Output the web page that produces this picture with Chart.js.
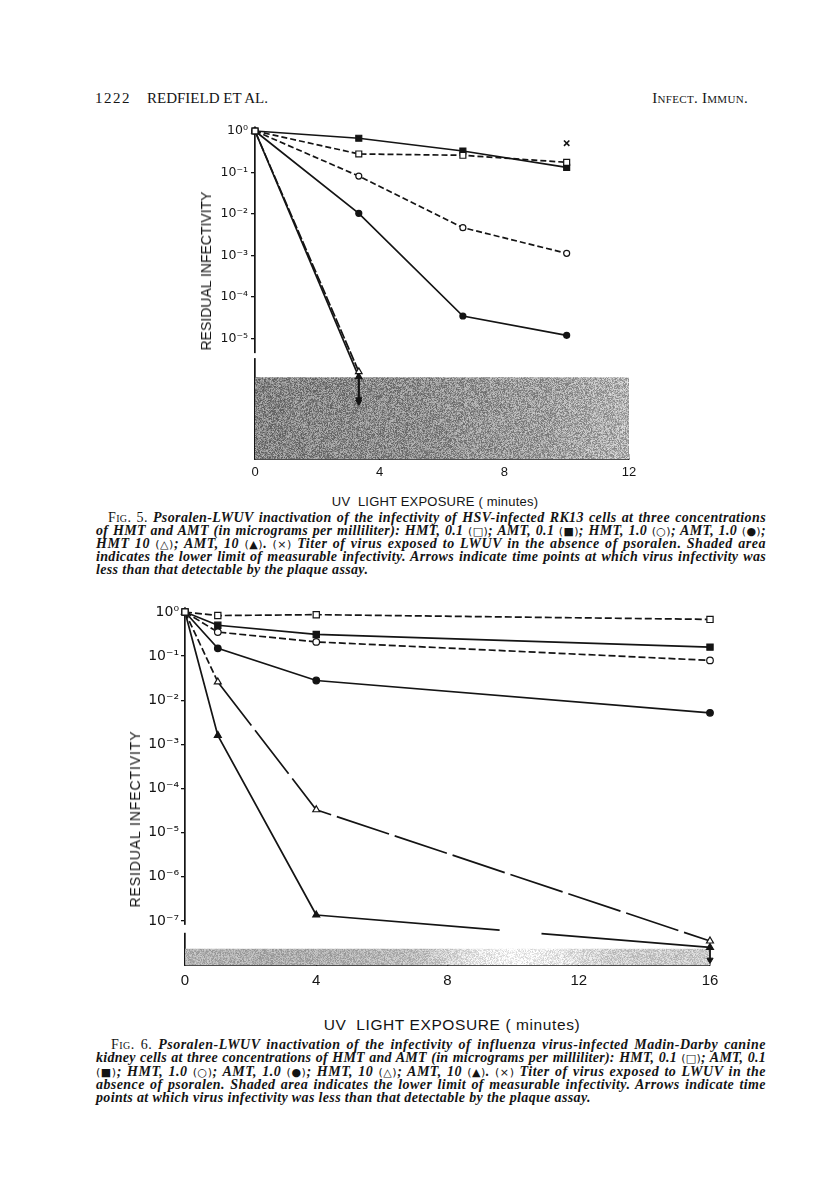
<!DOCTYPE html>
<html>
<head>
<meta charset="utf-8">
<script src="https://cdn.jsdelivr.net/npm/chart.js@4.4.1/dist/chart.umd.min.js"></script>
<style>
  html, body { margin: 0; padding: 0; background: #fff; }
  #page { position: relative; width: 816px; height: 1196px; background: #fff; overflow: hidden; color: #141414; }
  .abs { position: absolute; white-space: nowrap; }
  .hdr { font-family: 'Liberation Serif', serif; font-size: 15px; line-height: 16px; }
  .sc { font-variant: small-caps; }
  .ytitle { font-family: 'Liberation Sans', Arial, sans-serif; transform: translate(-50%, -50%) rotate(-90deg); transform-origin: 50% 50%; }
  .xtitle { font-family: 'Liberation Sans', Arial, sans-serif; transform: translate(-50%, -50%); }
  .cap { position: absolute; white-space: nowrap; font-family: 'Liberation Serif', serif; font-style: italic; font-weight: bold; font-size: 14px; line-height: 13px; height: 13px; }
  .cap .fig { font-style: normal; font-weight: normal; font-variant: small-caps; }
  .cap .sym { font-style: normal; font-weight: normal; font-family: 'DejaVu Sans', sans-serif; font-size: 11px; }
  canvas { position: absolute; }
</style>
</head>
<body>
<div id="page">
  <div class="abs hdr" style="left:95px; top:90px; letter-spacing:1.5px;">1222</div>
  <div class="abs hdr" style="left:147px; top:90px;">REDFIELD ET AL.</div>
  <div class="abs hdr sc" style="right:68px; top:90px; letter-spacing:0.3px;">Infect. Immun.</div>

  <canvas id="fig5" width="510" height="390" style="left:150px; top:100px;"></canvas>
  <div class="abs ytitle" style="left:206px; top:271px; font-size:14px;">RESIDUAL INFECTIVITY</div>
  <div class="abs xtitle" style="left:435px; top:501px; font-size:13px; letter-spacing:0.2px;">UV&nbsp; LIGHT EXPOSURE ( minutes)</div>

  <div class="cap" data-w="658" style="left:108px; top:511px;"><span class="fig">Fig. 5.</span> Psoralen-LWUV inactivation of the infectivity of HSV-infected RK13 cells at three concentrations</div>
  <div class="cap" data-w="670" style="left:96px; top:524px;">of HMT and AMT (in micrograms per milliliter): HMT, 0.1 <span class="sym">(□)</span>; AMT, 0.1 <span class="sym">(■)</span>; HMT, 1.0 <span class="sym">(○)</span>; AMT, 1.0 <span class="sym">(●)</span>;</div>
  <div class="cap" data-w="670" style="left:96px; top:537px;">HMT 10 <span class="sym">(△)</span>; AMT, 10 <span class="sym">(▲)</span>. <span class="sym">(×)</span> Titer of virus exposed to LWUV in the absence of psoralen. Shaded area</div>
  <div class="cap" data-w="670" style="left:96px; top:550px;">indicates the lower limit of measurable infectivity. Arrows indicate time points at which virus infectivity was</div>
  <div class="cap" data-ls="1" style="left:96px; top:563px;">less than that detectable by the plaque assay.</div>

  <canvas id="fig6" width="660" height="420" style="left:80px; top:590px;"></canvas>
  <div class="abs ytitle" style="left:135px; top:819px; font-size:14px; letter-spacing:0.9px;">RESIDUAL INFECTIVITY</div>
  <div class="abs xtitle" style="left:452px; top:1025px; font-size:15.5px; letter-spacing:0.6px;">UV&nbsp; LIGHT EXPOSURE ( minutes)</div>

  <div class="cap" data-w="655" style="left:111px; top:1038px;"><span class="fig">Fig. 6.</span> Psoralen-LWUV inactivation of the infectivity of influenza virus-infected Madin-Darby canine</div>
  <div class="cap" data-w="670" style="left:96px; top:1051px;">kidney cells at three concentrations of HMT and AMT (in micrograms per milliliter): HMT, 0.1 <span class="sym">(□)</span>; AMT, 0.1</div>
  <div class="cap" data-w="670" style="left:96px; top:1065px;"><span class="sym">(■)</span>; HMT, 1.0 <span class="sym">(○)</span>; AMT, 1.0 <span class="sym">(●)</span>; HMT, 10 <span class="sym">(△)</span>; AMT, 10 <span class="sym">(▲)</span>. <span class="sym">(×)</span> Titer of virus exposed to LWUV in the</div>
  <div class="cap" data-w="670" style="left:96px; top:1078px;">absence of psoralen. Shaded area indicates the lower limit of measurable infectivity. Arrows indicate time</div>
  <div class="cap" data-ls="1" style="left:96px; top:1091px;">points at which virus infectivity was less than that detectable by the plaque assay.</div>
</div>

<script>
// ---------------- DATA: Fig. 5 (HSV, RK13 cells) ----------------
const fig5Times      = [0, 3.33, 6.67, 10];
const fig5HMT01      = [1, 0.28, 0.26, 0.176];
const fig5AMT01      = [1, 0.67, 0.33, 0.133];
const fig5HMT1       = [1, 0.082, 0.0047, 0.00113];
const fig5AMT1       = [1, 0.0104, 3.5e-5, 1.2e-5];
const fig5Times10    = [0, 3.33];
const fig5HMT10      = [1, 1.6e-6];
const fig5AMT10      = [1, 1.2e-6];
const fig5ArrowX     = [3.33, 3.33];
const fig5ArrowHMT   = [1.6e-6, 3.4e-7];
const fig5ArrowAMT   = [1.2e-6, 3.0e-7];
const fig5NoPsoX     = [10];
const fig5NoPsoY     = [0.51];
const fig5LimitX     = [0, 12];
const fig5LimitY     = [1.17e-6, 1.17e-6];
const fig5XTicks     = [0, 4, 8, 12];
const fig5YTicks     = [1, 1e-1, 1e-2, 1e-3, 1e-4, 1e-5];
const fig5YTickLabels= ['10⁰', '10⁻¹', '10⁻²', '10⁻³', '10⁻⁴', '10⁻⁵'];
const fig5YMin = 1.26e-8, fig5YMax = 1;

// ---------------- DATA: Fig. 6 (influenza, MDCK cells) ----------------
const fig6Times      = [0, 1, 4, 16];
const fig6HMT01      = [1, 0.83, 0.87, 0.68];
const fig6AMT01      = [1, 0.50, 0.31, 0.16];
const fig6HMT1       = [1, 0.35, 0.21, 0.08];
const fig6AMT1       = [1, 0.15, 0.028, 0.0052];
const fig6HMT10      = [1, 0.026, 3.3e-5, 3.5e-8];
const fig6AMT10      = [1, 1.6e-3, 1.36e-7, 2.5e-8];
const fig6ArrowX     = [16, 16];
const fig6ArrowY     = [2.5e-8, 1.3e-8];
const fig6NoPsoX     = [16];
const fig6NoPsoY     = [1.37];
const fig6LimitX     = [0, 16];
const fig6LimitY     = [2.34e-8, 2.34e-8];
const fig6XTicks     = [0, 4, 8, 12, 16];
const fig6YTicks     = [1, 1e-1, 1e-2, 1e-3, 1e-4, 1e-5, 1e-6, 1e-7];
const fig6YTickLabels= ['10⁰', '10⁻¹', '10⁻²', '10⁻³', '10⁻⁴', '10⁻⁵', '10⁻⁶', '10⁻⁷'];
const fig6YMin = 1e-8, fig6YMax = 1;

// ---------------- styling helpers ----------------
const INK = '#141414';

function pts(xs, ys) { return xs.map((x, i) => ({ x: x, y: ys[i] })); }

function series(label, xs, ys, style) {
  return Object.assign({
    label: label, data: pts(xs, ys), borderColor: INK, borderWidth: 1.7,
    pointBorderColor: INK, pointBorderWidth: 1.2, pointBackgroundColor: INK,
    pointRadius: 3, pointHoverRadius: 3, fill: false, tension: 0, clip: false, order: 1
  }, style || {});
}

function arrow(label, xs, ys) {
  return {
    label: label, data: pts(xs, ys), borderColor: INK, borderWidth: 1.8,
    pointStyle: 'triangle', pointRotation: 180, pointRadius: [0, 3.6], pointHoverRadius: [0, 3.6],
    pointBackgroundColor: INK, pointBorderColor: INK, pointBorderWidth: 1,
    fill: false, tension: 0, clip: false, order: 2
  };
}

function interp(stops, t) {
  for (let i = 1; i < stops.length; i++) {
    if (t <= stops[i][0]) {
      const a = stops[i - 1], b = stops[i];
      const f = (t - a[0]) / (b[0] - a[0] || 1);
      return a[1] + (b[1] - a[1]) * f;
    }
  }
  return stops[stops.length - 1][1];
}

function shadePattern(chart, stops, amp) {
  if (chart.$shadeFill) return chart.$shadeFill;
  const a = chart.chartArea;
  const c = document.createElement('canvas');
  c.width = chart.width; c.height = chart.height;
  const g = c.getContext('2d');
  const img = g.createImageData(c.width, c.height);
  for (let y = 0; y < c.height; y++) {
    for (let x = 0; x < c.width; x++) {
      const t = Math.min(1, Math.max(0, (x - a.left) / (a.right - a.left)));
      const base = interp(stops, t);
      let h = (Math.imul(x, 374761393) + Math.imul(y, 668265263)) | 0;
      h = Math.imul(h ^ (h >>> 13), 1274126177);
      h = h ^ (h >>> 16);
      const n = (((h & 255) / 255) - 0.5) * 2 * amp;
      const v = Math.max(0, Math.min(255, base + n));
      const i = (y * c.width + x) * 4;
      img.data[i] = v; img.data[i + 1] = v; img.data[i + 2] = v; img.data[i + 3] = 255;
    }
  }
  g.putImageData(img, 0, 0);
  chart.$shadeFill = chart.ctx.createPattern(c, 'no-repeat');
  return chart.$shadeFill;
}

function shade(label, xs, ys, stops, amp) {
  return {
    label: label, data: pts(xs, ys), borderWidth: 0, borderColor: 'rgba(0,0,0,0)',
    pointRadius: 0, pointHoverRadius: 0, fill: 'start', tension: 0, order: 10,
    backgroundColor: (ctx) => ctx.chart.chartArea ? shadePattern(ctx.chart, stops, amp) : '#999'
  };
}

const axisBreak = {
  id: 'axisBreak',
  beforeDatasetsDraw(chart, args, opts) {
    if (!opts || !opts.from) return;
    const y = chart.scales.y, ctx = chart.ctx;
    const p1 = y.getPixelForValue(opts.from), p2 = y.getPixelForValue(opts.to);
    ctx.save();
    ctx.fillStyle = '#fff';
    ctx.fillRect(chart.chartArea.left - 3, Math.min(p1, p2), 6, Math.abs(p2 - p1));
    ctx.restore();
  }
};

function makeOptions(cfg) {
  return {
    responsive: false, animation: false, events: [],
    layout: { padding: cfg.padding },
    plugins: { legend: { display: false }, tooltip: { enabled: false }, axisBreak: cfg.brk },
    scales: {
      x: {
        type: 'linear', min: cfg.xMin, max: cfg.xMax,
        afterBuildTicks: (s) => { s.ticks = cfg.xTicks.map(v => ({ value: v })); },
        afterFit: (s) => { s.height = cfg.xHeight; },
        ticks: { autoSkip: false, maxRotation: 0, color: INK, padding: cfg.xPad,
                 font: { family: "'Liberation Sans', Arial, sans-serif", size: cfg.xFont },
                 callback: (v) => String(v) },
        grid: { drawOnChartArea: false, drawTicks: true, tickLength: -5, color: INK, lineWidth: 1.3 },
        border: { display: true, color: INK, width: 1.7 }
      },
      y: {
        type: 'logarithmic', min: cfg.yMin, max: cfg.yMax,
        afterBuildTicks: (s) => { s.ticks = cfg.yTicks.map(v => ({ value: v })); },
        afterFit: (s) => { s.width = cfg.yWidth; },
        ticks: { autoSkip: false, color: INK, padding: cfg.yPad,
                 font: { family: "'DejaVu Sans', sans-serif", size: cfg.yFont },
                 callback: (v) => {
                   const i = cfg.yTicks.findIndex(t => Math.abs(Math.log10(t) - Math.log10(v)) < 1e-6);
                   return i >= 0 ? cfg.yLabels[i] : '';
                 } },
        grid: { drawOnChartArea: false, drawTicks: true, tickLength: 4, color: INK, lineWidth: 1.3 },
        border: { display: true, color: INK, width: 1.7 }
      }
    }
  };
}

const dashA = [6, 3];

// ---------------- Fig. 5 ----------------
new Chart(document.getElementById('fig5'), {
  type: 'line',
  data: {
    datasets: [
      series('HMT, 0.1', fig5Times, fig5HMT01, { pointStyle: 'rect', pointRadius: 4.2, pointHoverRadius: 4.2, pointBackgroundColor: '#fff', borderDash: dashA }),
      series('AMT, 0.1', fig5Times, fig5AMT01, { pointStyle: 'rect', pointRadius: 4.2, pointHoverRadius: 4.2 }),
      series('HMT, 1.0', fig5Times, fig5HMT1, { pointStyle: 'circle', pointBackgroundColor: '#fff', borderDash: dashA }),
      series('AMT, 1.0', fig5Times, fig5AMT1, { pointStyle: 'circle' }),
      series('HMT, 10', fig5Times10, fig5HMT10, { pointStyle: 'triangle', pointRadius: 3.8, pointHoverRadius: 3.8, pointBackgroundColor: '#fff', borderDash: [10, 2] }),
      series('AMT, 10', fig5Times10, fig5AMT10, { pointStyle: 'triangle', pointRadius: 3.8, pointHoverRadius: 3.8 }),
      arrow('HMT, 10 below limit', fig5ArrowX, fig5ArrowHMT),
      arrow('AMT, 10 below limit', fig5ArrowX, fig5ArrowAMT),
      series('No psoralen', fig5NoPsoX, fig5NoPsoY, { pointStyle: 'crossRot', pointRadius: 3.8, pointHoverRadius: 3.8, pointBorderWidth: 1.6, showLine: false }),
      shade('Lower limit', fig5LimitX, fig5LimitY, [[0, 132], [0.45, 142], [0.8, 160], [1, 180]], 45)
    ]
  },
  options: makeOptions({
    padding: { left: 0, top: 31, right: 31, bottom: 6 },
    xMin: 0, xMax: 12, xTicks: fig5XTicks, xHeight: 25, xPad: 11, xFont: 13,
    yMin: fig5YMin, yMax: fig5YMax, yTicks: fig5YTicks, yLabels: fig5YTickLabels, yWidth: 105, yPad: 3, yFont: 12.5,
    brk: { from: Math.pow(10, -5.35), to: Math.pow(10, -5.47) }
  }),
  plugins: [axisBreak]
});

// ---------------- Fig. 6 ----------------
new Chart(document.getElementById('fig6'), {
  type: 'line',
  data: {
    datasets: [
      series('HMT, 0.1', fig6Times, fig6HMT01, { pointStyle: 'rect', pointRadius: 4.4, pointHoverRadius: 4.4, pointBackgroundColor: '#fff', borderDash: [7, 3] }),
      series('AMT, 0.1', fig6Times, fig6AMT01, { pointStyle: 'rect', pointRadius: 4.4, pointHoverRadius: 4.4 }),
      series('HMT, 1.0', fig6Times, fig6HMT1, { pointStyle: 'circle', pointRadius: 3.3, pointHoverRadius: 3.3, pointBackgroundColor: '#fff', borderDash: [7, 3] }),
      series('AMT, 1.0', fig6Times, fig6AMT1, { pointStyle: 'circle', pointRadius: 3.3, pointHoverRadius: 3.3 }),
      series('HMT, 10', fig6Times, fig6HMT10, { pointStyle: 'triangle', pointRadius: 4, pointHoverRadius: 4, pointBackgroundColor: '#fff', borderDash: [7, 3],
        segment: { borderDash: (ctx) => ctx.p0DataIndex >= 1 ? [55, 6] : undefined } }),
      series('AMT, 10', fig6Times, fig6AMT10, { pointStyle: 'triangle', pointRadius: 4, pointHoverRadius: 4,
        segment: { borderDash: (ctx) => ctx.p0DataIndex === 2 ? [184, 42] : undefined } }),
      arrow('AMT, 10 below limit', fig6ArrowX, fig6ArrowY),
      series('No psoralen', fig6NoPsoX, fig6NoPsoY, { pointStyle: 'crossRot', pointRadius: 3.8, pointHoverRadius: 3.8, pointBorderWidth: 1.6, showLine: false }),
      shade('Lower limit', fig6LimitX, fig6LimitY, [[0, 178], [0.15, 172], [0.3, 176], [0.45, 190], [0.55, 228], [0.62, 244], [0.7, 232], [0.82, 205], [1, 200]], 28)
    ]
  },
  options: makeOptions({
    padding: { left: 0, top: 22, right: 30, bottom: 10 },
    xMin: 0, xMax: 16, xTicks: fig6XTicks, xHeight: 35, xPad: 12, xFont: 15,
    yMin: fig6YMin, yMax: fig6YMax, yTicks: fig6YTicks, yLabels: fig6YTickLabels, yWidth: 105, yPad: 2, yFont: 14,
    brk: { from: Math.pow(10, -7.09), to: Math.pow(10, -7.27) }
  }),
  plugins: [axisBreak]
});

// ---------------- caption justification (exact line widths as in the print) ----------------
function justifyCaptions() {
  document.querySelectorAll('.cap').forEach(el => {
    el.style.wordSpacing = '0px';
    el.style.letterSpacing = '0px';
    el.style.transform = 'none';
    const target = parseFloat(el.getAttribute('data-w') || '0');
    const chars = el.textContent.length;
    if (!target) {
      if (el.getAttribute('data-ls')) el.style.letterSpacing = '0.35px';
      return;
    }
    let w = el.getBoundingClientRect().width;
    if (w > target) {
      el.style.transformOrigin = '0 0';
      el.style.transform = 'scaleX(' + (target / w) + ')';
      return;
    }
    const ls = Math.min(0.6, (target - w) * 0.7 / chars);
    el.style.letterSpacing = ls + 'px';
    w = el.getBoundingClientRect().width;
    const spaces = (el.textContent.match(/ /g) || []).length;
    if (w < target && spaces > 0) el.style.wordSpacing = ((target - w) / spaces) + 'px';
  });
}
justifyCaptions();
if (document.fonts && document.fonts.ready) document.fonts.ready.then(justifyCaptions);
</script>
</body>
</html>
